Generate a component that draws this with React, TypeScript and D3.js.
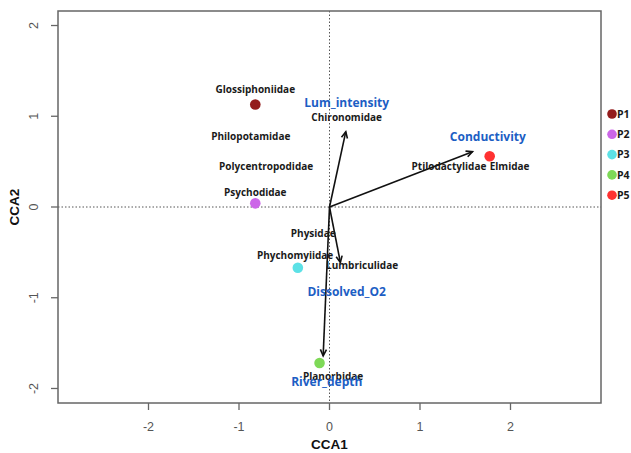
import React from "react";
import * as d3 from "d3";

// Site scores (CCA1, CCA2)
const siteNames = ["P1", "P2", "P3", "P4", "P5"];
const siteX = [-0.82, -0.82, -0.35, -0.11, 1.77];
const siteY = [1.13, 0.04, -0.67, -1.72, 0.56];
const siteColors = ["#941c1c", "#cc66e8", "#5ce1e6", "#7ed957", "#ff3131"];

// Family labels placed at their species scores
const familyNames = [
  "Glossiphoniidae",
  "Philopotamidae",
  "Polycentropodidae",
  "Psychodidae",
  "Chironomidae",
  "Ptilodactylidae",
  "Elmidae",
  "Physidae",
  "Phychomyiidae",
  "Lumbriculidae",
  "Planorbidae",
];
const familyX = [-0.82, -0.87, -0.7, -0.82, 0.19, 1.32, 1.99, -0.18, -0.38, 0.36, 0.04];
const familyY = [1.3, 0.78, 0.45, 0.16, 0.99, 0.45, 0.45, -0.29, -0.53, -0.64, -1.87];

// Environmental biplot vectors and their labels
const envNames = ["Lum_intensity", "Conductivity", "Dissolved_O2", "River_depth"];
const envX = [0.18, 1.58, 0.12, -0.07];
const envY = [0.83, 0.61, -0.61, -1.64];
const envLabelX = [0.19, 1.75, 0.19, -0.03];
const envLabelY = [1.15, 0.77, -0.93, -1.93];

const xTicks = [-2, -1, 0, 1, 2];
const yTicks = [-2, -1, 0, 1, 2];

const W = 631;
const H = 453;
const plot = { left: 58, right: 601, top: 11, bottom: 403 };

export default function App() {
  const x = d3.scaleLinear().domain([-3, 3]).range([plot.left, plot.right]);
  const y = d3.scaleLinear().domain([-2.16, 2.16]).range([plot.bottom, plot.top]);

  const labelFont = "'Open Sans', 'DejaVu Sans', sans-serif";
  const axisFont = "'Liberation Sans', Arial, sans-serif";

  const arrowHead = (x0: number, y0: number, x1: number, y1: number) => {
    const ang = Math.atan2(y1 - y0, x1 - x0);
    const len = 7;
    const spread = Math.PI / 7;
    const a = [x1 - len * Math.cos(ang - spread), y1 - len * Math.sin(ang - spread)];
    const b = [x1 - len * Math.cos(ang + spread), y1 - len * Math.sin(ang + spread)];
    return `M${a[0]},${a[1]}L${x1},${y1}L${b[0]},${b[1]}`;
  };

  return (
    <svg
      width={W}
      height={H}
      style={{ position: "absolute", left: 0, top: 0, background: "#fff" }}
    >
      {/* reference lines through the origin */}
      <line x1={plot.left} x2={plot.right} y1={y(0)} y2={y(0)} stroke="#555" strokeWidth={1} strokeDasharray="1.5,2" />
      <line x1={x(0)} x2={x(0)} y1={plot.top} y2={plot.bottom} stroke="#555" strokeWidth={1} strokeDasharray="1.5,2" />

      {/* plot frame */}
      <rect
        x={plot.left}
        y={plot.top}
        width={plot.right - plot.left}
        height={plot.bottom - plot.top}
        fill="none"
        stroke="#666"
        strokeWidth={1.5}
      />

      {/* x axis */}
      {xTicks.map((t) => (
        <g key={`xt${t}`}>
          <line x1={x(t)} x2={x(t)} y1={plot.bottom} y2={plot.bottom + 7} stroke="#666" strokeWidth={1.3} />
          <text x={x(t)} y={plot.bottom + 28} textAnchor="middle" fontFamily={axisFont} fontSize={12.5} fill="#555">
            {t}
          </text>
        </g>
      ))}
      {/* y axis */}
      {yTicks.map((t) => (
        <g key={`yt${t}`}>
          <line x1={plot.left - 7} x2={plot.left} y1={y(t)} y2={y(t)} stroke="#666" strokeWidth={1.3} />
          <text
            transform={`translate(${plot.left - 20},${y(t)}) rotate(-90)`}
            textAnchor="middle"
            fontFamily={axisFont}
            fontSize={12.5}
            fill="#555"
          >
            {t}
          </text>
        </g>
      ))}
      <text x={x(0)} y={449} textAnchor="middle" fontFamily={axisFont} fontWeight="bold" fontSize={13.5} fill="#111">
        CCA1
      </text>
      <text
        transform={`translate(19,${y(0)}) rotate(-90)`}
        textAnchor="middle"
        fontFamily={axisFont}
        fontWeight="bold"
        fontSize={13.5}
        fill="#111"
      >
        CCA2
      </text>

      {/* site points */}
      {siteNames.map((s, i) => (
        <circle key={s} cx={x(siteX[i])} cy={y(siteY[i])} r={5.3} fill={siteColors[i]} />
      ))}

      {/* environmental vectors */}
      {envNames.map((n, i) => {
        const x0 = x(0);
        const y0 = y(0);
        const x1 = x(envX[i]);
        const y1 = y(envY[i]);
        return (
          <g key={n} stroke="#111" strokeWidth={1.6} fill="none">
            <line x1={x0} y1={y0} x2={x1} y2={y1} />
            <path d={arrowHead(x0, y0, x1, y1)} />
          </g>
        );
      })}

      {/* family labels */}
      {familyNames.map((n, i) => (
        <text
          key={n}
          x={x(familyX[i])}
          y={y(familyY[i])}
          dy="0.35em"
          textAnchor="middle"
          fontFamily={labelFont}
          fontWeight="bold"
          fontSize={10}
          fill="#1a1a1a"
        >
          {n}
        </text>
      ))}

      {/* environmental labels */}
      {envNames.map((n, i) => (
        <text
          key={`l${n}`}
          x={x(envLabelX[i])}
          y={y(envLabelY[i])}
          dy="0.35em"
          textAnchor="middle"
          fontFamily={labelFont}
          fontWeight="bold"
          fontSize={12}
          fill="#1c5ec4"
        >
          {n}
        </text>
      ))}

      {/* legend */}
      {siteNames.map((s, i) => (
        <g key={`lg${s}`} transform={`translate(612,${114 + i * 20.3})`}>
          <circle cx={0} cy={0} r={4.8} fill={siteColors[i]} />
          <text x={5} y={0} dy="0.35em" fontFamily={labelFont} fontWeight="bold" fontSize={10.5} fill="#1a1a1a">
            {s}
          </text>
        </g>
      ))}
    </svg>
  );
}
